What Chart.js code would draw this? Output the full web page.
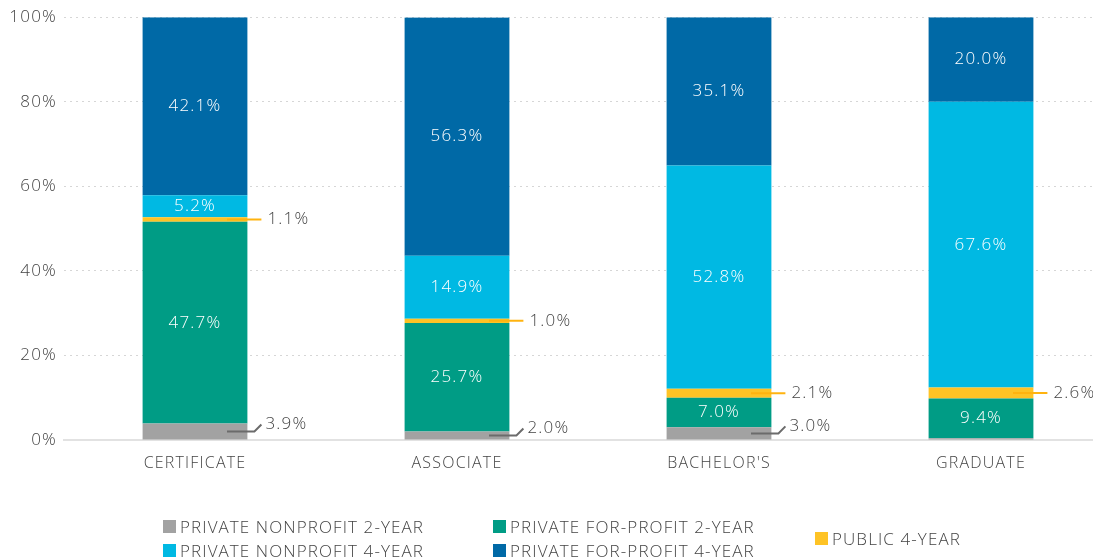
<!DOCTYPE html>
<html>
<head>
<meta charset="utf-8">
<script src="https://cdn.jsdelivr.net/npm/chart.js@4.4.0/dist/chart.umd.min.js"></script>
<style>
  html, body { margin:0; padding:0; background:#fff; overflow:hidden; }
  #wrap { position:relative; width:1112px; height:559px; }
  #legend { position:absolute; left:0; top:0; font-family:"Open Sans", Lato, sans-serif; font-weight:300; font-size:17px; letter-spacing:1.1px; color:#444; }
  .lg { position:absolute; white-space:nowrap; display:flex; align-items:center; }
  .lg i { display:inline-block; width:13px; height:13px; margin-right:4px; }
</style>
</head>
<body>
<div id="wrap">
  <canvas id="c" width="1112" height="559"></canvas>
  <div id="legend"></div>
</div>
<script>
/* Degree level by sector share */
const categories = ['CERTIFICATE', 'ASSOCIATE', "BACHELOR'S", 'GRADUATE'];
const seriesNames = ['PRIVATE NONPROFIT 2-YEAR', 'PRIVATE FOR-PROFIT 2-YEAR', 'PUBLIC 4-YEAR', 'PRIVATE NONPROFIT 4-YEAR', 'PRIVATE FOR-PROFIT 4-YEAR'];
const nonprofit2 = [3.9, 2.0, 3.0, 0.4];
const forprofit2 = [47.7, 25.7, 7.0, 9.4];
const public4    = [1.1, 1.0, 2.1, 2.6];
const nonprofit4 = [5.2, 14.9, 52.8, 67.6];
const forprofit4 = [42.1, 56.3, 35.1, 20.0];
const yTicks = [0, 20, 40, 60, 80, 100];

// which labels are shown, and how (in / out with leader)
const nonprofit2Shown = [true, true, true, false];

const COLORS = ['#a2a2a2', '#009c85', '#fec325', '#00b9e3', '#0069a6'];
const FONT = '"Open Sans", Lato, sans-serif';
const TEXT = '#444444';
const SPACING = '1.2px';

const seriesData = [nonprofit2, forprofit2, public4, nonprofit4, forprofit4];

// wider letter spacing for all canvas text
const spacingPlugin = {
  id: 'spacing',
  beforeDraw(chart) { chart.ctx.letterSpacing = SPACING; }
};

const labelPlugin = {
  id: 'segLabels',
  afterDatasetsDraw(chart) {
    const ctx = chart.ctx;
    ctx.save();
    ctx.letterSpacing = SPACING;
    ctx.font = '300 17px ' + FONT;
    ctx.textBaseline = 'middle';
    chart.data.datasets.forEach((ds, di) => {
      const meta = chart.getDatasetMeta(di);
      meta.data.forEach((bar, i) => {
        const v = ds.data[i];
        const half = bar.width / 2;
        const right = bar.x + half;
        const cy = (bar.y + bar.base) / 2;
        if (di === 0) {
          if (!nonprofit2Shown[i]) return;
          ctx.strokeStyle = '#6b6b6b'; ctx.lineWidth = 2;
          ctx.beginPath();
          ctx.moveTo(bar.x + 32, cy);
          ctx.lineTo(right + 7, cy);
          ctx.lineTo(right + 14, cy - 7);
          ctx.stroke();
          ctx.fillStyle = TEXT; ctx.textAlign = 'left';
          ctx.fillText(v.toFixed(1) + '%', right + 18, cy - 7);
        } else if (di === 2) {
          ctx.strokeStyle = '#ffb30f'; ctx.lineWidth = 2;
          ctx.beginPath();
          ctx.moveTo(bar.x + 32, cy);
          ctx.lineTo(right + 14, cy);
          ctx.stroke();
          ctx.fillStyle = TEXT; ctx.textAlign = 'left';
          ctx.fillText(v.toFixed(1) + '%', right + 20, cy);
        } else {
          ctx.fillStyle = '#ffffff'; ctx.textAlign = 'center';
          ctx.fillText(v.toFixed(1) + '%', bar.x, cy);
        }
      });
    });
    ctx.restore();
  }
};

const chart = new Chart(document.getElementById('c'), {
  type: 'bar',
  data: {
    labels: categories,
    datasets: seriesNames.map((n, k) => ({
      label: n, data: seriesData[k], backgroundColor: COLORS[k],
      categoryPercentage: 1, barPercentage: 0.4, borderWidth: 0
    }))
  },
  options: {
    responsive: false, animation: false,
    layout: { padding: { top: 16, right: 0, left: 0, bottom: 0 } },
    plugins: { legend: { display: false }, tooltip: { enabled: false } },
    scales: {
      x: {
        stacked: true,
        grid: { display: false },
        border: { display: true, color: '#e2e2e2', width: 2 },
        ticks: { color: TEXT, font: { family: FONT, size: 16, weight: '300' }, padding: 6 },
        afterFit(s) { s.height = 119; }
      },
      y: {
        stacked: true, min: 0, max: 100,
        afterBuildTicks(s) { s.ticks = yTicks.map(v => ({ value: v })); },
        grid: { color: '#d6d6d6', lineWidth: 1, drawTicks: false },
        border: { display: false, dash: [2, 4] },
        ticks: { color: TEXT, font: { family: FONT, size: 17, weight: '300' }, padding: 7, callback: v => v + '%' },
        afterFit(s) { s.width = 64; }
      }
    }
  },
  plugins: [spacingPlugin, labelPlugin]
});

/* legend, three columns, last one vertically centred */
const legendPos = [[163, 527], [493, 527], [815, 539], [163, 551], [493, 551]];
const lg = document.getElementById('legend');
seriesNames.forEach((n, k) => {
  const d = document.createElement('div');
  d.className = 'lg';
  d.style.left = legendPos[k][0] + 'px';
  d.style.top = (legendPos[k][1] - 12) + 'px';
  d.innerHTML = '<i style="background:' + COLORS[k] + '"></i>' + n;
  lg.appendChild(d);
});
</script>
</body>
</html>
